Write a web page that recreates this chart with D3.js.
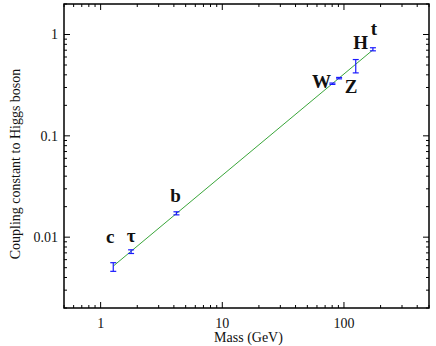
<!DOCTYPE html>
<meta charset="utf-8">
<style>
html, body { margin: 0; padding: 0; background: #fff; }
svg { display: block; font-family: "Liberation Serif", "Times New Roman", serif; }
.frame { fill: none; stroke: #000; stroke-width: 1.5px; }
.tick-line { stroke: #000; stroke-width: 1px; }
.tick-label { font-size: 14px; fill: #111; }
.particle { font-size: 19px; font-weight: bold; fill: #111; }
.err { stroke: #1a1aff; stroke-width: 1.2px; fill: none; }
.fit { stroke: #3aa63a; stroke-width: 1px; fill: none; }
</style>
<svg id="chart"></svg>
<script src="https://d3js.org/d3.v7.min.js"></script>
<script>

var width = 436;
var height = 346;
var margin = {left: 64, right: 7, top: 4, bottom: 38};

// particle data
var names = ['c', '\u03c4', 'b', 'W', 'Z', 'H', 't'];
var mass = [1.27, 1.78, 4.2, 80.4, 91.2, 125, 173];
var coupling = [0.0051, 0.0072, 0.0172, 0.327, 0.371, 0.48, 0.715];
var errLow = [0.0046, 0.0069, 0.0166, 0.322, 0.365, 0.418, 0.69];
var errHigh = [0.0056, 0.0075, 0.0178, 0.332, 0.377, 0.566, 0.74];
// label offsets relative to the point
var labelDx = [-3, 0, -1, -11, 12, 5, 1];
var labelDy = [-24, -10, -11, 4, 15, -18, -14];

// fitted line endpoints
var lineMass = [1.27, 173];
var lineCoupling = [0.00518, 0.705];

var xTicks = [1, 10, 100];
var yTicks = [0.01, 0.1, 1];

var svg = d3.select('#chart')
  .attr('width', width)
  .attr('height', height);

var x = d3.scaleLog()
  .domain([0.5, 500])
  .range([margin.left, width - margin.right]);

var y = d3.scaleLog()
  .domain([0.002, 2])
  .range([height - margin.bottom, margin.top]);

var x0 = x.range()[0], x1 = x.range()[1];
var y0 = y.range()[0], y1 = y.range()[1];

// minor and major tick positions
function logTicks (scale) {
  var d = scale.domain();
  var out = [];
  for (var e = Math.floor(Math.log10(d[0])); e <= Math.ceil(Math.log10(d[1])); e++) {
    for (var k = 1; k <= 9; k++) {
      var v = k * Math.pow(10, e);
      if (v >= d[0] * 0.999 && v <= d[1] * 1.001) out.push({v: v, major: k === 1});
    }
  }
  return out;
}

var g = svg.append('g');

var xt = logTicks(x);
var yt = logTicks(y);

// ticks pointing inward on all four sides
g.selectAll('line.xb')
  .data(xt)
  .enter().append('line')
  .attr('class', 'tick-line')
  .attr('x1', function (d) { return x(d.v); })
  .attr('x2', function (d) { return x(d.v); })
  .attr('y1', y0)
  .attr('y2', function (d) { return y0 - (d.major ? 6 : 3); });

g.selectAll('line.xt')
  .data(xt)
  .enter().append('line')
  .attr('class', 'tick-line')
  .attr('x1', function (d) { return x(d.v); })
  .attr('x2', function (d) { return x(d.v); })
  .attr('y1', y1)
  .attr('y2', function (d) { return y1 + (d.major ? 6 : 3); });

g.selectAll('line.yl')
  .data(yt)
  .enter().append('line')
  .attr('class', 'tick-line')
  .attr('y1', function (d) { return y(d.v); })
  .attr('y2', function (d) { return y(d.v); })
  .attr('x1', x0)
  .attr('x2', function (d) { return x0 + (d.major ? 6 : 3); });

g.selectAll('line.yr')
  .data(yt)
  .enter().append('line')
  .attr('class', 'tick-line')
  .attr('y1', function (d) { return y(d.v); })
  .attr('y2', function (d) { return y(d.v); })
  .attr('x1', x1)
  .attr('x2', function (d) { return x1 - (d.major ? 6 : 3); });

g.append('rect')
  .attr('class', 'frame')
  .attr('x', x0)
  .attr('y', y1)
  .attr('width', x1 - x0)
  .attr('height', y0 - y1);

// tick labels
g.selectAll('text.xl')
  .data(xTicks)
  .enter().append('text')
  .attr('class', 'tick-label')
  .attr('x', function (d) { return x(d); })
  .attr('y', y0 + 20)
  .attr('text-anchor', 'middle')
  .text(function (d) { return d; });

g.selectAll('text.yl')
  .data(yTicks)
  .enter().append('text')
  .attr('class', 'tick-label')
  .attr('x', x0 - 6)
  .attr('y', function (d) { return y(d); })
  .attr('dy', '0.35em')
  .attr('text-anchor', 'end')
  .text(function (d) { return d; });

g.append('text')
  .attr('class', 'tick-label')
  .attr('x', (x0 + x1) / 2 + 2)
  .attr('y', height - 4)
  .attr('text-anchor', 'middle')
  .text('Mass (GeV)');

g.append('text')
  .attr('class', 'tick-label')
  .attr('transform', 'translate(20,' + 164 + ') rotate(-90)')
  .attr('text-anchor', 'middle')
  .text('Coupling constant to Higgs boson');

// fit line
var line = d3.line()
  .x(function (d) { return x(d[0]); })
  .y(function (d) { return y(d[1]); });

g.append('path')
  .attr('class', 'fit')
  .attr('d', line(d3.zip(lineMass, lineCoupling)));

// error bars
var pts = names.map(function (n, i) {
  return {name: n, m: mass[i], c: coupling[i], lo: errLow[i], hi: errHigh[i], dx: labelDx[i], dy: labelDy[i]};
});

var eb = g.selectAll('g.eb')
  .data(pts)
  .enter().append('g');

eb.append('line')
  .attr('class', 'err')
  .attr('x1', function (d) { return x(d.m); })
  .attr('x2', function (d) { return x(d.m); })
  .attr('y1', function (d) { return y(d.lo); })
  .attr('y2', function (d) { return y(d.hi); });

eb.append('line')
  .attr('class', 'err')
  .attr('x1', function (d) { return x(d.m) - 3; })
  .attr('x2', function (d) { return x(d.m) + 3; })
  .attr('y1', function (d) { return y(d.lo); })
  .attr('y2', function (d) { return y(d.lo); });

eb.append('line')
  .attr('class', 'err')
  .attr('x1', function (d) { return x(d.m) - 3; })
  .attr('x2', function (d) { return x(d.m) + 3; })
  .attr('y1', function (d) { return y(d.hi); })
  .attr('y2', function (d) { return y(d.hi); });

eb.append('text')
  .attr('class', 'particle')
  .attr('x', function (d) { return x(d.m) + d.dx; })
  .attr('y', function (d) { return y(d.c) + d.dy; })
  .attr('text-anchor', 'middle')
  .text(function (d) { return d.name; });

</script>
